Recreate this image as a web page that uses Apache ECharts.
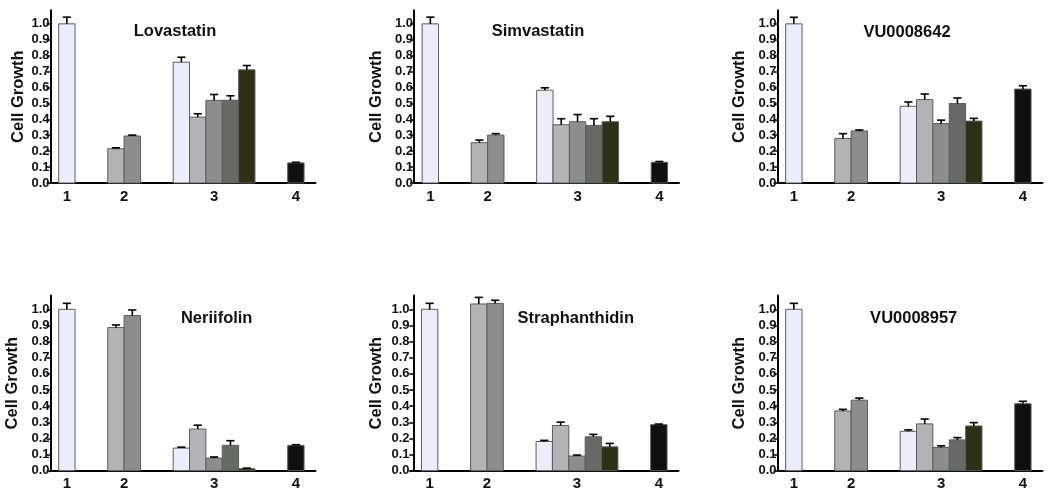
<!DOCTYPE html>
<html>
<head>
<meta charset="utf-8">
<script src="https://cdn.jsdelivr.net/npm/echarts@6/dist/echarts.min.js"></script>
<style>
html,body{margin:0;padding:0;background:#fff;}
#chart{width:1050px;height:499px;}
</style>
</head>
<body>
<div id="chart"></div>
<script>
// ---- data ----
const titles = ['Lovastatin', 'Simvastatin', 'VU0008642', 'Neriifolin', 'Straphanthidin', 'VU0008957'];
const groupNames = ['1', '2', '3', '4'];
const groupSizes = [1, 2, 5, 1];
const yTickLabels = ['0.0', '0.1', '0.2', '0.3', '0.4', '0.5', '0.6', '0.7', '0.8', '0.9', '1.0'];
const yAxisName = 'Cell Growth';

const lovastatinValues = [1.0, 0.215, 0.295, 0.759, 0.414, 0.519, 0.52, 0.711, 0.126];
const lovastatinErrors = [0.042, 0.006, 0.006, 0.031, 0.021, 0.037, 0.028, 0.027, 0.004];
const simvastatinValues = [1.0, 0.253, 0.301, 0.583, 0.366, 0.385, 0.362, 0.385, 0.13];
const simvastatinErrors = [0.042, 0.017, 0.009, 0.015, 0.038, 0.045, 0.042, 0.034, 0.005];
const vu0008642Values = [1.0, 0.28, 0.327, 0.482, 0.524, 0.373, 0.499, 0.389, 0.59];
const vu0008642Errors = [0.041, 0.03, 0.006, 0.027, 0.035, 0.022, 0.035, 0.017, 0.021];
const neriifolinValues = [1.0, 0.887, 0.961, 0.14, 0.258, 0.078, 0.157, 0.012, 0.157];
const neriifolinErrors = [0.037, 0.016, 0.035, 0.006, 0.024, 0.007, 0.029, 0.004, 0.004];
const straphanthidinValues = [1.0, 1.033, 1.037, 0.181, 0.28, 0.091, 0.21, 0.148, 0.285];
const straphanthidinErrors = [0.037, 0.041, 0.019, 0.007, 0.021, 0.006, 0.015, 0.021, 0.004];
const vu0008957Values = [1.0, 0.37, 0.437, 0.244, 0.29, 0.144, 0.191, 0.277, 0.415];
const vu0008957Errors = [0.037, 0.01, 0.013, 0.009, 0.03, 0.01, 0.014, 0.021, 0.015];

const panelValues = [lovastatinValues, simvastatinValues, vu0008642Values, neriifolinValues, straphanthidinValues, vu0008957Values];
const panelErrors = [lovastatinErrors, simvastatinErrors, vu0008642Errors, neriifolinErrors, straphanthidinErrors, vu0008957Errors];

// ---- styles / layout ----
const FONT = '"Liberation Sans", Arial, Helvetica, sans-serif';
const barColors = ['#ececfb', '#b3b3b7', '#8d8d8d', '#ececfb', '#b3b3b7', '#8d8d8d', '#676a64', '#2e3016', '#101010'];
const borderColor = '#5c5c5c';
const TOP_ROW = { top: 10.3, height: 172.7 };
const BOT_ROW = { top: 295.6, height: 175.1 };
const layout = [
  { left: 50.5, width: 265, xMin: 0, row: TOP_ROW, nameGap: 24, tx: 175, ty: 31.7 },
  { left: 414, width: 265, xMin: 0, row: TOP_ROW, nameGap: 29, tx: 538, ty: 31.7 },
  { left: 777.5, width: 265, xMin: 0, row: TOP_ROW, nameGap: 29.5, tx: 907, ty: 32 },
  { left: 50.5, width: 265, xMin: 0, row: BOT_ROW, nameGap: 30, tx: 216.7, ty: 318.7 },
  { left: 410.5, width: 268, xMin: -0.17, row: BOT_ROW, nameGap: 25.5, tx: 575.8, ty: 318 },
  { left: 777.5, width: 265, xMin: 0, row: BOT_ROW, nameGap: 29.5, tx: 913.7, ty: 318.3 }
];
const X_MAX = 16.2;
const Y_MAX = 1.085;

// slot positions derived from the group structure
const barPositions = [];
const labelPositions = [];
let pos = 1;
groupSizes.forEach(function (n) {
  for (let i = 0; i < n; i++) barPositions.push(pos + i);
  labelPositions.push(pos + (n - 1) / 2);
  pos += n + 2;
});
function groupLabel(v) {
  for (let i = 0; i < labelPositions.length; i++) {
    if (Math.abs(labelPositions[i] - v) < 1e-6) return groupNames[i];
  }
  return '';
}

function renderItem(params, api) {
  const x = api.value(0), v = api.value(1), e = api.value(2), ci = api.value(3);
  const p0 = api.coord([x - 0.5, 0]);
  const p1 = api.coord([x + 0.5, v]);
  const pe = api.coord([x, v + e]);
  const w = p1[0] - p0[0];
  const cap = w * 0.25;
  return {
    type: 'group',
    children: [
      { type: 'rect', shape: { x: p0[0], y: p1[1], width: w, height: p0[1] - p1[1] },
        style: { fill: barColors[ci], stroke: borderColor, lineWidth: 1 } },
      { type: 'line', shape: { x1: pe[0], y1: p1[1], x2: pe[0], y2: pe[1] },
        style: { stroke: '#000', lineWidth: 1.6 } },
      { type: 'line', shape: { x1: pe[0] - cap, y1: pe[1], x2: pe[0] + cap, y2: pe[1] },
        style: { stroke: '#000', lineWidth: 1.6 } }
    ]
  };
}

const grid = [], xAxis = [], yAxis = [], series = [], title = [];
layout.forEach(function (L, k) {
  grid.push({ left: L.left, width: L.width, top: L.row.top, height: L.row.height, containLabel: false });
  xAxis.push({
    type: 'value', gridIndex: k, min: L.xMin, max: X_MAX,
    splitLine: { show: false },
    axisLine: { show: true, onZero: false, lineStyle: { color: '#000', width: 2 } },
    axisTick: { show: false },
    axisLabel: {
      customValues: labelPositions, formatter: groupLabel, margin: 6,
      color: '#111', fontFamily: FONT, fontWeight: 'bold', fontSize: 15
    }
  });
  yAxis.push({
    type: 'value', gridIndex: k, min: 0, max: Y_MAX,
    name: yAxisName, nameLocation: 'middle', nameRotate: 90, nameGap: L.nameGap,
    nameTextStyle: { color: '#111', fontFamily: FONT, fontWeight: 'bold', fontSize: 16.5 },
    splitLine: { show: false },
    axisLine: { show: true, lineStyle: { color: '#000', width: 2 } },
    axisTick: { show: true, length: 4, customValues: yTickLabels.map(Number), lineStyle: { color: '#000', width: 1.5 } },
    axisLabel: {
      customValues: yTickLabels.map(Number), margin: 1,
      formatter: function (v) { return v.toFixed(1); },
      color: '#111', fontFamily: FONT, fontWeight: 'bold', fontSize: 13
    }
  });
  const data = panelValues[k].map(function (v, i) {
    return [barPositions[i], v, panelErrors[k][i], i];
  });
  series.push({
    type: 'custom', xAxisIndex: k, yAxisIndex: k, renderItem: renderItem,
    encode: { x: 0, y: 1 }, data: data, clip: false, silent: true
  });
  title.push({
    text: titles[k], left: L.tx, top: L.ty, textAlign: 'center', textVerticalAlign: 'middle', padding: 0,
    textStyle: { color: '#111', fontFamily: FONT, fontWeight: 'bold', fontSize: 16.5 }
  });
});

const chart = echarts.init(document.getElementById('chart'), null, { renderer: 'canvas' });
chart.setOption({
  animation: false,
  backgroundColor: '#fff',
  title: title, grid: grid, xAxis: xAxis, yAxis: yAxis, series: series
});
</script>
</body>
</html>
